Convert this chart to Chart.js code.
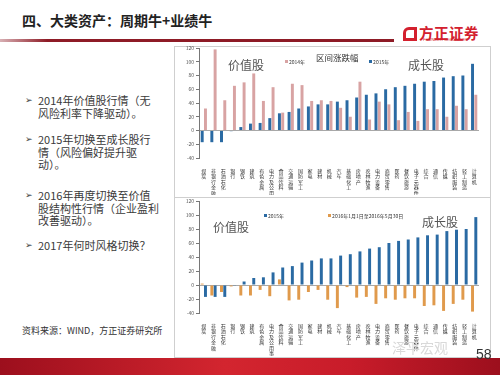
<!DOCTYPE html>
<html>
<head>
<meta charset="utf-8">
<script src="https://cdn.jsdelivr.net/npm/chart.js@4.4.0/dist/chart.umd.min.js"></script>
<style>
  body { margin: 0; width: 500px; height: 375px; overflow: hidden; background: #fff; position: relative;
         font-family: "Noto Sans CJK SC", "Noto Sans", "DejaVu Sans", sans-serif; }
  .abs { position: absolute; white-space: nowrap; }
  .title { left: 22px; top: 10px; font-size: 14px; font-weight: bold; color: #222; }
  .rule { left: 0; top: 39px; width: 394px; height: 3px; background: linear-gradient(to right, #d8b0b4, #8e1b26 12%, #8e1b26); }
  .logoText { left: 419px; top: 22px; font-size: 14.5px; font-weight: bold; color: #d3202e; letter-spacing: 0.5px; }
  .logoSub { left: 423px; top: 37px; font-size: 4px; color: #d3202e; font-family: "Liberation Sans", sans-serif; }
  .logoIcon { left: 403px; top: 27px; width: 8px; height: 8px; border: 3px solid #d3202e; border-top-left-radius: 6px; }
  .bul { left: 25px; font-size: 11px; line-height: 12.5px; color: #3a3a3a; white-space: normal; }
  .bul span.m { position: absolute; left: 0; font-family: "DejaVu Sans", sans-serif; font-size: 9px; }
  .bul div { margin-left: 13px; }
  .box { border: 1px solid #cfcfcf; }
  .tag { font-size: 12px; color: #555; line-height: 1; }
  .ctitle { font-size: 8.5px; color: #333; line-height: 1; }
  .key { font-size: 5px; color: #333; line-height: 1; }
  .key i { display: inline-block; width: 3px; height: 3px; margin-right: 1px; vertical-align: 1px; }
  .src { left: 22px; top: 324px; font-size: 9px; color: #333; }
  .band { left: 0; top: 358px; width: 500px; height: 17px; background: linear-gradient(to right, #9c0f1d, #d3252f 45%, #c81c2a 70%, #9c0f1d); }
  .page { left: 476px; top: 346px; font-size: 14px; color: #333; font-family: "Liberation Sans", sans-serif; }
  .mark { left: 392px; top: 337px; font-size: 14px; color: #d9d9d9; }
  canvas { position: absolute; }
</style>
</head>
<body>
<div class="abs title">四、大类资产：周期牛+业绩牛</div>
<div class="abs rule"></div>
<div class="abs logoIcon"></div>
<div class="abs logoText">方正证券</div>
<div class="abs logoSub">FOUNDER SECURITIES</div>

<div class="abs bul" style="top:94px"><span class="m">➢</span><div>2014年价值股行情（无<br>风险利率下降驱动）。</div></div>
<div class="abs bul" style="top:133px"><span class="m">➢</span><div>2015年切换至成长股行<br>情（风险偏好提升驱<br>动）。</div></div>
<div class="abs bul" style="top:189px"><span class="m">➢</span><div>2016年再度切换至价值<br>股结构性行情（企业盈利<br>改善驱动）。</div></div>
<div class="abs bul" style="top:239px"><span class="m">➢</span><div>2017年何时风格切换？</div></div>
<div class="abs src">资料来源：WIND，方正证券研究所</div>

<div class="abs box" style="left:174px;top:46px;width:315px;height:150px"></div>
<div class="abs box" style="left:174px;top:197px;width:315px;height:159px"></div>

<canvas id="topChart" width="317" height="155" style="left:173px;top:40px"></canvas>
<canvas id="bottomChart" width="317" height="164" style="left:173px;top:192px"></canvas>

<div class="abs tag" style="left:228px;top:59px">价值股</div>
<div class="abs tag" style="left:408px;top:59px">成长股</div>
<div class="abs ctitle" style="left:316px;top:53px">区间涨跌幅</div>
<div class="abs key" id="topKey"></div>

<div class="abs tag" style="left:213px;top:221px">价值股</div>
<div class="abs tag" style="left:422px;top:216px">成长股</div>
<div class="abs key" id="bottomKey"></div>

<div class="abs mark">泽平宏观</div>
<div class="abs band"></div>
<div class="abs page">58</div>

<script>
// 行业分类 (按2015年涨跌幅排序)
const categories = ['煤炭', '非银行金融', '石油石化', '银行', '钢铁', '建筑', '有色金属', '电力及公用事业',
  '食品饮料', '交通运输', '国防军工', '家电', '建材', '机械', '汽车', '基础化工', '房地产', '农林牧渔',
  '电力设备', '商贸零售', '医药', '餐饮旅游', '电子元器件', '综合', '通信', '传媒', '纺织服装', '轻工制造', '计算机'];

// 区间涨跌幅 (%)
const chg2014 = [32, 118, 44, 65, 70, 83, 43, 63, 26, 68, 66, 43, 44, 43, 33, 20, 71, 16, 42, 38, 15, 27, 14, 31, 31, 20, 36, 31, 52];
const chg2015 = [-17, -17, -17, -1, 5, 10, 11, 18, 25, 27, 32, 35, 38, 38, 42, 44, 48, 52, 54, 60, 63, 65, 68, 71, 72, 77, 79, 80, 97];
const chg2016 = [2, -15, -10, -2, -15, -15, -7, -16, 8, -22, -21, -10, -7, -21, -33, -3, -18, -17, -27, -19, -21, -19, -19, -30, -29, -37, -27, -21, -38];

const label2014 = '2014年';
const label2015 = '2015年';
const label2016 = '2016年1月1日至2016年5月30日';

const yMin = -40, yMax = 120, yStep = 20;

const BLUE = '#2a6aa3', PINK = '#d8a3a3', ORANGE = '#e09a4c';

Chart.defaults.font.family = '"Noto Sans CJK SC", "Noto Sans", sans-serif';

function makeChart(id, datasets, padTop, axisHeight) {
  return new Chart(document.getElementById(id), {
    type: 'bar',
    data: {
      labels: categories.map(c => c.split('')),   // 竖排标签
      datasets: datasets
    },
    options: {
      responsive: false,
      animation: false,
      layout: { padding: { left: 0, right: 11, top: padTop, bottom: 0 } },
      plugins: { legend: { display: false }, title: { display: false }, tooltip: { enabled: false } },
      datasets: { bar: { categoryPercentage: 0.68, barPercentage: 0.9, borderWidth: 0 } },
      scales: {
        x: {
          grid: { display: false },
          border: { display: false },
          ticks: { autoSkip: false, maxRotation: 0, minRotation: 0, padding: 2, color: '#333',
                   font: { size: 5, lineHeight: 1.1 } },
          afterFit: s => { s.height = axisHeight; }
        },
        y: {
          min: yMin, max: yMax,
          ticks: { stepSize: yStep, color: '#555', font: { size: 5 }, padding: 2 },
          border: { color: '#777' },
          grid: {
            color: c => (c.tick && c.tick.value === 0) ? '#a8a8a8' : 'transparent',
            tickColor: '#777', tickLength: 3
          },
          afterFit: s => { s.width = 26; }
        }
      }
    }
  });
}

// 图例
function fillKey(id, items, left, top, gap) {
  const el = document.getElementById(id);
  el.style.left = left + 'px';
  el.style.top = top + 'px';
  el.innerHTML = items.map(it =>
    '<span style="margin-right:' + gap + 'px"><i style="background:' + it.color + '"></i>' + it.text + '</span>').join('');
}

makeChart('topChart', [
  { label: label2015, data: chg2015, backgroundColor: BLUE },
  { label: label2014, data: chg2014, backgroundColor: PINK }
], 8, 37);

makeChart('bottomChart', [
  { label: label2016, data: chg2016, backgroundColor: ORANGE },
  { label: label2015, data: chg2015, backgroundColor: BLUE }
], 9, 43);

fillKey('topKey', [{ text: label2014, color: PINK }, { text: label2015, color: BLUE }], 285, 59, 64);
fillKey('bottomKey', [{ text: label2015, color: BLUE }, { text: label2016, color: ORANGE }], 264, 213, 44);
</script>
</body>
</html>
